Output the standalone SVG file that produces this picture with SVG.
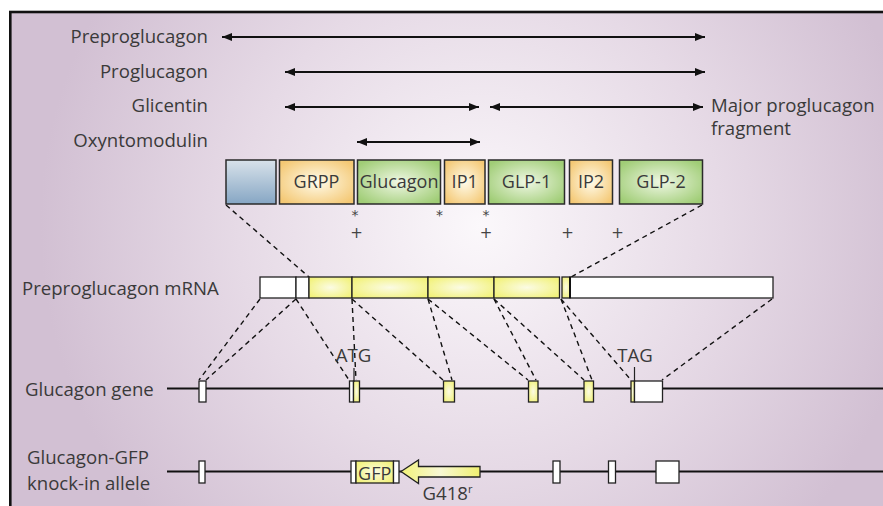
<svg xmlns="http://www.w3.org/2000/svg" width="883" height="506" viewBox="0 0 883 506">
<defs>
<radialGradient id="bg" gradientUnits="userSpaceOnUse" cx="480" cy="225" r="440">
<stop offset="0" stop-color="#fbf8fb"/>
<stop offset="0.55" stop-color="#e6dae6"/>
<stop offset="1" stop-color="#d2c0d3"/>
</radialGradient>
<linearGradient id="blue" x1="0" y1="0" x2="0" y2="1">
<stop offset="0" stop-color="#d8e2ea"/>
<stop offset="1" stop-color="#86a6c4"/>
</linearGradient>
<radialGradient id="orange" cx="0.5" cy="0.5" r="0.62">
<stop offset="0" stop-color="#fffbea"/>
<stop offset="1" stop-color="#f4c874"/>
</radialGradient>
<radialGradient id="green" cx="0.5" cy="0.5" r="0.62">
<stop offset="0" stop-color="#eff7e4"/>
<stop offset="1" stop-color="#a0cd76"/>
</radialGradient>
<radialGradient id="yel" cx="0.5" cy="0.5" r="0.6">
<stop offset="0" stop-color="#fbfbe4"/>
<stop offset="1" stop-color="#f2f27c"/>
</radialGradient>
<linearGradient id="arrowg" gradientUnits="userSpaceOnUse" x1="400" y1="0" x2="480" y2="0">
<stop offset="0" stop-color="#f2f276"/>
<stop offset="0.5" stop-color="#f8f8d4"/>
<stop offset="1" stop-color="#f0f070"/>
</linearGradient>
<marker id="ah" viewBox="0 0 10 8" refX="10" refY="4" markerWidth="10" markerHeight="8" markerUnits="userSpaceOnUse" orient="auto-start-reverse">
<path d="M0,0 L10,4 L0,8 z" fill="#111"/>
</marker>
<style>
text{font-family:"Open Sans","Noto Sans","DejaVu Sans",sans-serif;fill:#3a3a3a;}
.lab{font-size:18.6px;}
.blab{font-size:18px;text-anchor:middle;}
.box{stroke:#2a2a2a;stroke-width:1.5;}
.seg{stroke:#222;stroke-width:1.3;}
.arr{stroke:#111;stroke-width:2;fill:none;marker-start:url(#ah);marker-end:url(#ah);}
.dash{stroke:#111;stroke-width:1.4;stroke-dasharray:5 4;fill:none;}
.line{stroke:#111;stroke-width:2;fill:none;}
.ex{stroke:#222;stroke-width:1.3;}
.ast{font-family:"DejaVu Sans",sans-serif;font-size:14px;text-anchor:middle;fill:#444;}
.plus{font-family:"DejaVu Sans",sans-serif;font-size:15px;text-anchor:middle;fill:#444;}
</style>
</defs>
<rect x="0" y="0" width="883" height="506" fill="#ffffff"/>
<rect x="10.3" y="12" width="900" height="600" fill="url(#bg)" stroke="#111" stroke-width="2.6"/>

<g id="labels">
<text class="lab" x="208" y="43" text-anchor="end">Preproglucagon</text>
<text class="lab" x="208" y="78" text-anchor="end">Proglucagon</text>
<text class="lab" x="208" y="112" text-anchor="end">Glicentin</text>
<text class="lab" x="208" y="147" text-anchor="end">Oxyntomodulin</text>
<text class="lab" x="711" y="112">Major proglucagon</text>
<text class="lab" x="711" y="135">fragment</text>
<text class="lab" x="22" y="295">Preproglucagon mRNA</text>
<text class="lab" x="25" y="396">Glucagon gene</text>
<text class="lab" x="27" y="464">Glucagon-GFP</text>
<text class="lab" x="27" y="490">knock-in allele</text>
</g>

<g id="connectors">
<line class="arr" x1="222" y1="37" x2="705" y2="37"/>
<line class="arr" x1="285" y1="72" x2="705" y2="72"/>
<line class="arr" x1="285" y1="107" x2="479" y2="107"/>
<line class="arr" x1="490" y1="107" x2="703" y2="107"/>
<line class="arr" x1="357" y1="142" x2="480" y2="142"/>
<line class="dash" x1="226" y1="205" x2="309" y2="277"/>
<line class="dash" x1="702" y1="205" x2="571" y2="277"/>
<line class="dash" x1="260" y1="299" x2="199" y2="380"/>
<line class="dash" x1="296" y1="299" x2="206" y2="380"/>
<line class="dash" x1="296" y1="299" x2="349" y2="380"/>
<line class="dash" x1="352" y1="299" x2="356" y2="380"/>
<line class="dash" x1="352" y1="299" x2="443" y2="380"/>
<line class="dash" x1="428" y1="299" x2="452" y2="380"/>
<line class="dash" x1="428" y1="299" x2="528" y2="380"/>
<line class="dash" x1="494" y1="299" x2="536" y2="380"/>
<line class="dash" x1="494" y1="299" x2="584" y2="380"/>
<line class="dash" x1="561" y1="299" x2="592" y2="380"/>
<line class="dash" x1="561" y1="299" x2="631" y2="380"/>
<line class="dash" x1="772" y1="299" x2="662" y2="380"/>
</g>

<g id="peptides">
<g id="signal"><rect class="box" x="226" y="160" width="50" height="44" fill="url(#blue)"/></g>
<g id="grpp"><rect class="box" x="279.5" y="160" width="74.5" height="44" fill="url(#orange)"/><text class="blab" x="316.5" y="188">GRPP</text></g>
<g id="glucagon"><rect class="box" x="357.5" y="160" width="83" height="44" fill="url(#green)"/><text class="blab" x="399" y="188">Glucagon</text></g>
<g id="ip1"><rect class="box" x="444.5" y="160" width="40.5" height="44" fill="url(#orange)"/><text class="blab" x="464.7" y="188">IP1</text></g>
<g id="glp1"><rect class="box" x="488.5" y="160" width="76" height="44" fill="url(#green)"/><text class="blab" x="526.5" y="188">GLP-1</text></g>
<g id="ip2"><rect class="box" x="569.5" y="160" width="43" height="44" fill="url(#orange)"/><text class="blab" x="591" y="188">IP2</text></g>
<g id="glp2"><rect class="box" x="619.5" y="160" width="83" height="44" fill="url(#green)"/><text class="blab" x="661" y="188">GLP-2</text></g>
</g>

<g id="cleavage">
<text class="ast" x="355" y="220">*</text>
<text class="ast" x="439.5" y="220">*</text>
<text class="ast" x="486" y="220">*</text>
<text class="plus" x="356.5" y="237.5">+</text>
<text class="plus" x="486" y="237.5">+</text>
<text class="plus" x="567.5" y="237.5">+</text>
<text class="plus" x="617.5" y="237.5">+</text>
</g>

<g id="mrna">
<rect class="seg" x="260" y="277" width="36" height="21" fill="#fff"/>
<rect class="seg" x="296" y="277" width="13" height="21" fill="#fff"/>
<rect class="seg" x="309" y="277" width="43" height="21" fill="url(#yel)"/>
<rect class="seg" x="352" y="277" width="76" height="21" fill="url(#yel)"/>
<rect class="seg" x="428" y="277" width="66" height="21" fill="url(#yel)"/>
<rect class="seg" x="494" y="277" width="65.5" height="21" fill="url(#yel)"/>
<rect class="seg" x="562" y="277" width="8" height="21" fill="url(#yel)"/>
<rect class="seg" x="570" y="277" width="203" height="21" fill="#fff"/>
<line x1="570" y1="277" x2="570" y2="298" stroke="#111" stroke-width="2"/>
</g>

<g id="gene">
<line class="line" x1="167" y1="388.5" x2="883" y2="388.5"/>
<rect class="ex" x="199" y="381" width="7" height="21" fill="#fff"/>
<rect class="ex" x="349.5" y="381" width="4" height="21" fill="#fff"/>
<rect class="ex" x="353.5" y="381" width="6" height="21" fill="url(#yel)"/>
<rect class="ex" x="443.5" y="381" width="11" height="21" fill="url(#yel)"/>
<rect class="ex" x="528.5" y="381" width="9.5" height="21" fill="url(#yel)"/>
<rect class="ex" x="584" y="381" width="9.5" height="21" fill="url(#yel)"/>
<rect class="ex" x="631" y="381" width="3.5" height="21" fill="url(#yel)"/>
<rect class="ex" x="634.5" y="381" width="28" height="21" fill="#fff"/>
<line x1="354" y1="368" x2="354" y2="382" stroke="#222" stroke-width="1.2"/>
<line x1="634.5" y1="367" x2="634.5" y2="382" stroke="#222" stroke-width="1.2"/>
<text class="lab" x="353.5" y="362" text-anchor="middle">ATG</text>
<text class="lab" x="635" y="362" text-anchor="middle">TAG</text>
</g>

<g id="knockin">
<line class="line" x1="167" y1="471.5" x2="883" y2="471.5"/>
<rect class="ex" x="199" y="461" width="6" height="22" fill="#fff"/>
<rect class="ex" x="351" y="461" width="5" height="22" fill="#fff"/>
<rect class="ex" x="356" y="461" width="37.5" height="22" fill="url(#yel)"/>
<rect class="ex" x="393.5" y="461" width="5.5" height="22" fill="#fff"/>
<text x="374.7" y="479.5" font-size="18" text-anchor="middle">GFP</text>
<path d="M401,471.5 L418.5,460 L418.5,466.5 L480,466.5 L480,477 L418.5,477 L418.5,483.5 Z" fill="url(#arrowg)" stroke="#222" stroke-width="1.3"/>
<text class="lab" x="422.5" y="499.5">G418<tspan font-size="11" dy="-7">r</tspan></text>
<rect class="ex" x="553" y="461" width="7" height="22" fill="#fff"/>
<rect class="ex" x="608.5" y="461" width="7" height="22" fill="#fff"/>
<rect class="ex" x="656" y="461" width="23" height="22" fill="#fff"/>
</g>
</svg>
